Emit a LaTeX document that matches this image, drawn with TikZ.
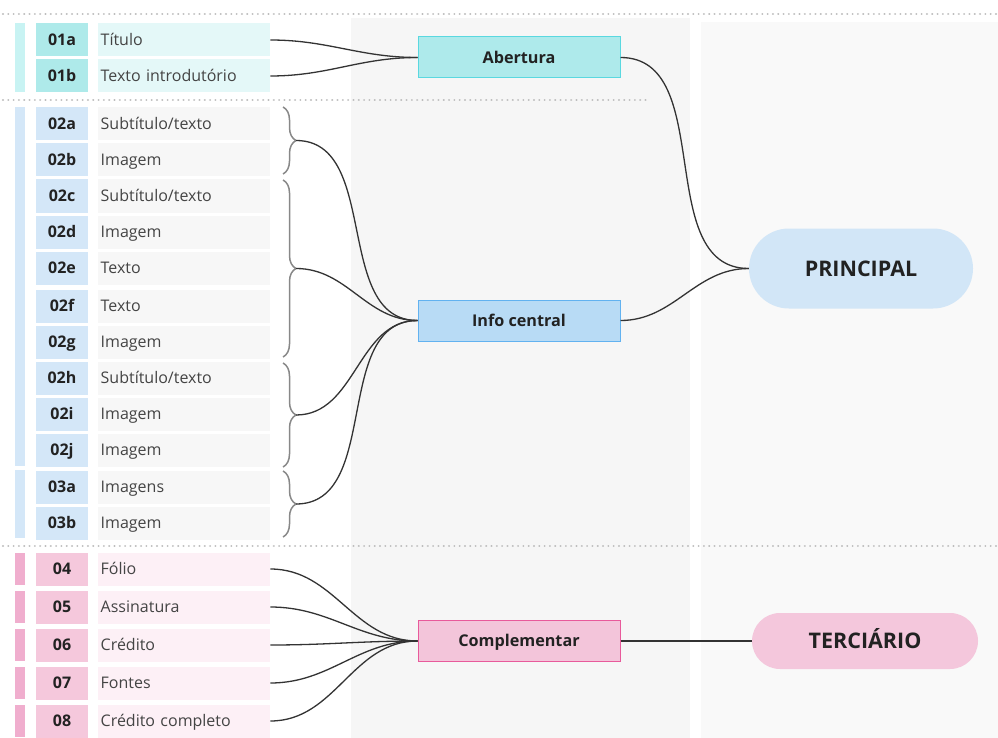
\documentclass[tikz,border=0pt]{standalone}
\usepackage{fontspec}
\setmainfont{Open Sans}
\usetikzlibrary{decorations.pathreplacing}
\definecolor{panelA}{HTML}{F6F6F6}
\definecolor{panelB}{HTML}{F9F9F9}
\definecolor{dotc}{HTML}{BDBDBD}
\definecolor{cyanbar}{HTML}{C8F3F3}
\definecolor{cyancode}{HTML}{AEEAEA}
\definecolor{cyanlab}{HTML}{E4F8F8}
\definecolor{bluecode}{HTML}{D4E7F8}
\definecolor{graylab}{HTML}{F7F7F7}
\definecolor{pinkbar}{HTML}{F0AECE}
\definecolor{pinkcode}{HTML}{F5C8DC}
\definecolor{pinklab}{HTML}{FDF0F6}
\definecolor{abfill}{HTML}{AEEAEB}
\definecolor{abdraw}{HTML}{5AD8E0}
\definecolor{icfill}{HTML}{B8DBF5}
\definecolor{icdraw}{HTML}{62B2F0}
\definecolor{cpfill}{HTML}{F3C5DA}
\definecolor{cpdraw}{HTML}{E85A9B}
\definecolor{prfill}{HTML}{D2E6F7}
\definecolor{tefill}{HTML}{F4C7DC}
\definecolor{txtdark}{HTML}{222222}
\definecolor{txtlab}{HTML}{444444}
\definecolor{connc}{HTML}{333333}
\definecolor{bracec}{HTML}{888888}
\begin{document}
\begin{tikzpicture}[x=1pt,y=-1pt,
  codecell/.style={minimum width=52pt, minimum height=33pt, inner sep=0pt,
    text height=11.5pt, text depth=0pt,
    font=\fontsize{16}{19}\selectfont\bfseries, text=txtdark},
  labcell/.style={anchor=west, minimum height=33pt, text width=167pt,
    inner xsep=2.5pt, inner ysep=0pt, align=left,
    text height=11.5pt, text depth=0pt,
    font=\fontsize{16}{19}\selectfont, text=txtlab},
  midbox/.style={minimum width=202pt, minimum height=41pt, inner sep=0pt,
    text height=11.5pt, text depth=0pt,
    line width=1pt, font=\fontsize{16.2}{19}\selectfont\bfseries, text=txtdark},
  pill/.style={inner sep=0pt, text height=15pt, text depth=0pt,
    font=\fontsize{21.5}{25}\selectfont\bfseries, text=txtdark},
  conn/.style={draw=connc, line width=1.3pt},
  bracestyle/.style={draw=bracec, line width=1.5pt, decorate,
    decoration={brace, amplitude=13pt}},
  dotline/.style={draw=dotc, line width=2.2pt, line cap=round, dash pattern=on 0.01pt off 5.3pt}
]
\useasboundingbox (0,0) rectangle (998,738);
\fill[white] (0,0) rectangle (998,738);
% panels
\fill[panelA] (351,18) rectangle (690,738);
\fill[panelB] (701,22) rectangle (998,738);
% dotted separators
\draw[dotline] (3,14) -- (996,14);
\draw[dotline] (3,100) -- (648,100);
\draw[dotline] (3,546) -- (996,546);
% left bars
\fill[cyanbar] (15,23) rectangle (25,92);
\fill[bluecode] (15,107) rectangle (25,466);
\fill[bluecode] (15,470) rectangle (25,538);
\foreach \y in {569,607,645,683,721}{
  \fill[pinkbar] (15,\y-16) rectangle (25,\y+16);
}
% section 01
\foreach \id/\txt/\y in {01a/Título/40, 01b/Texto introdutório/76}{
  \node[codecell, fill=cyancode] (c\id) at (62,\y) {\id};
  \node[labcell, fill=cyanlab] (l\id) at (98,\y) {\txt};
}
% section 02/03
\foreach \id/\txt/\y in {02a/Subtítulo\slash texto/124, 02b/Imagem/160, 02c/Subtítulo\slash texto/196,
  02d/Imagem/232, 02e/Texto/268, 02f/Texto/306, 02g/Imagem/342, 02h/Subtítulo\slash texto/378,
  02i/Imagem/414, 02j/Imagem/450, 03a/Imagens/487, 03b/Imagem/523}{
  \node[codecell, fill=bluecode] (c\id) at (62,\y) {\id};
  \node[labcell, fill=graylab] (l\id) at (98,\y) {\txt};
}
% section 04-08
\foreach \id/\txt/\y in {04/Fólio/569, 05/Assinatura/607, 06/Crédito/645, 07/Fontes/683, 08/Crédito completo/721}{
  \node[codecell, fill=pinkcode] (c\id) at (62,\y) {\id};
  \node[labcell, fill=pinklab] (l\id) at (98,\y) {\txt};
}
% middle boxes
\node[midbox, fill=abfill, draw=abdraw] (ab) at (519,57.5) {Abertura};
\node[midbox, fill=icfill, draw=icdraw] (ic) at (519,320.5) {Info central};
\node[midbox, fill=cpfill, draw=cpdraw] (cp) at (519,641) {Complementar};
% right pills
\node[pill, fill=prfill, minimum width=224pt, minimum height=80pt, rounded corners=40pt] (pr) at (861,268.5) {PRINCIPAL};
\node[pill, fill=tefill, minimum width=226pt, minimum height=56pt, rounded corners=28pt] (te) at (865,641) {TERCIÁRIO};
% braces
\draw[bracestyle] (283,107) -- (283,174);
\draw[bracestyle] (283,180) -- (283,357);
\draw[bracestyle] (283,363) -- (283,467);
\draw[bracestyle] (283,471) -- (283,537);
\coordinate (t1) at (296,140.5);
\coordinate (t2) at (296,268.5);
\coordinate (t3) at (296,415);
\coordinate (t4) at (296,504);
% connectors
\draw[conn] (l01a.east) to[out=0,in=180] (ab.west);
\draw[conn] (l01b.east) to[out=0,in=180] (ab.west);
\foreach \t in {t1,t2,t3,t4}{
  \draw[conn] (\t) to[out=0,in=180] (ic.west);
}
\foreach \id in {04,05,06,07,08}{
  \draw[conn] (l\id.east) to[out=0,in=180] (cp.west);
}
\draw[conn] (ab.east) to[out=0,in=180] (pr.west);
\draw[conn] (ic.east) to[out=0,in=180] (pr.west);
\draw[conn] (cp.east) -- (te.west);
\end{tikzpicture}
\end{document}
